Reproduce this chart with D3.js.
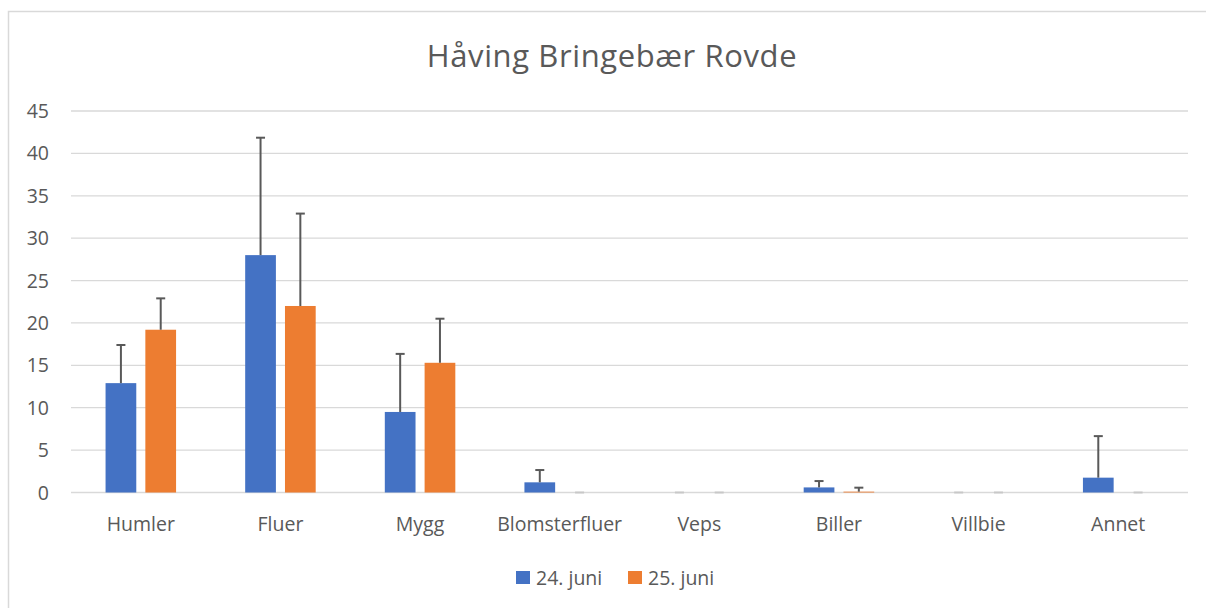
<!DOCTYPE html>
<html>
<head>
<meta charset="utf-8">
<script src="https://cdn.jsdelivr.net/npm/d3@7"></script>
<style>
  body { margin: 0; background: #fff; }
  svg { display: block; font-family: "Open Sans", sans-serif; }
</style>
</head>
<body>
<div class="chart"></div>
<script>
const width = 1206;
const height = 608;
const margin = {top: 111, right: 18, bottom: 115.5, left: 71};

const titleText = 'Håving Bringebær Rovde';
const categories = ['Humler', 'Fluer', 'Mygg', 'Blomsterfluer', 'Veps', 'Biller', 'Villbie', 'Annet'];
const seriesNames = ['24. juni', '25. juni'];
const juni24 = [12.9, 28.0, 9.5, 1.2, 0, 0.6, 0, 1.75];
const juni25 = [19.2, 22.0, 15.3, 0, 0, 0.1, 0, 0];
const err24 = [4.5, 13.85, 6.85, 1.45, 0, 0.75, 0, 4.9];
const err25 = [3.7, 10.9, 5.2, 0, 0, 0.47, 0, 0];
const yTicks = [0, 5, 10, 15, 20, 25, 30, 35, 40, 45];
const colors = ['#4472c4', '#ed7d31'];

const svg = d3.select('.chart')
  .append('svg')
  .attr('width', width)
  .attr('height', height);

// chart area border
svg.append('rect')
  .attr('x', 8.5).attr('y', 11.5)
  .attr('width', 1210).attr('height', 620)
  .attr('fill', 'none')
  .attr('stroke', '#d9d9d9')
  .attr('stroke-width', 1.5);

svg.append('text')
  .attr('x', 612).attr('y', 67)
  .attr('text-anchor', 'middle')
  .attr('fill', '#595959')
  .style('font-size', '31px')
  .style('letter-spacing', '0.6px')
  .text(titleText);

const xScale = d3.scaleBand()
  .domain(categories)
  .range([margin.left, width - margin.right]);

const yScale = d3.scaleLinear()
  .domain([0, 45])
  .range([height - margin.bottom, margin.top]);

const barW = xScale.bandwidth() * 0.22;
const gap = xScale.bandwidth() * 0.065;

// gridlines
svg.append('g')
  .selectAll('line')
  .data(yTicks)
  .join('line')
  .attr('x1', margin.left).attr('x2', width - margin.right)
  .attr('y1', d => yScale(d)).attr('y2', d => yScale(d))
  .attr('stroke', '#d9d9d9')
  .attr('stroke-width', 1.3);

// y labels
svg.append('g')
  .selectAll('text')
  .data(yTicks)
  .join('text')
  .attr('x', 49)
  .attr('y', d => yScale(d))
  .attr('dy', '0.36em')
  .attr('text-anchor', 'end')
  .attr('fill', '#595959')
  .style('font-size', '19.5px')
  .text(d => d);

// x labels
svg.append('g')
  .selectAll('text')
  .data(categories)
  .join('text')
  .attr('x', d => xScale(d) + xScale.bandwidth() / 2)
  .attr('y', 531)
  .attr('text-anchor', 'middle')
  .attr('fill', '#595959')
  .style('font-size', '19.5px')
  .text(d => d);

const series = [juni24, juni25];
const errors = [err24, err25];

series.forEach((vals, s) => {
  const off = s === 0 ? -gap / 2 - barW : gap / 2;
  const xPos = i => xScale(categories[i]) + xScale.bandwidth() / 2 + off;

  svg.append('g')
    .selectAll('rect')
    .data(vals)
    .join('rect')
    .attr('x', (d, i) => xPos(i))
    .attr('y', d => yScale(d))
    .attr('width', barW)
    .attr('height', d => yScale(0) - yScale(d))
    .attr('fill', colors[s]);

  // error bars (plus only)
  const eg = svg.append('g');
  vals.forEach((v, i) => {
    const cx = xPos(i) + barW / 2;
    const top = yScale(v + errors[s][i]);
    const col = errors[s][i] === 0 ? '#c8c8c8' : '#595959';
    if (errors[s][i] > 0) {
      eg.append('line')
        .attr('x1', cx).attr('x2', cx)
        .attr('y1', yScale(v)).attr('y2', top)
        .attr('stroke', col).attr('stroke-width', 2);
    }
    eg.append('line')
      .attr('x1', cx - 4.5).attr('x2', cx + 4.5)
      .attr('y1', top).attr('y2', top)
      .attr('stroke', col).attr('stroke-width', 2);
  });
});

// legend
const legend = svg.append('g');
const legendX = [516, 628];
seriesNames.forEach((name, s) => {
  legend.append('rect')
    .attr('x', legendX[s]).attr('y', 571)
    .attr('width', 14).attr('height', 13)
    .attr('fill', colors[s]);
  legend.append('text')
    .attr('x', legendX[s] + 20).attr('y', 578)
    .attr('dy', '0.36em')
    .attr('fill', '#595959')
    .style('font-size', '19.5px')
    .text(name);
});
</script>
</body>
</html>
